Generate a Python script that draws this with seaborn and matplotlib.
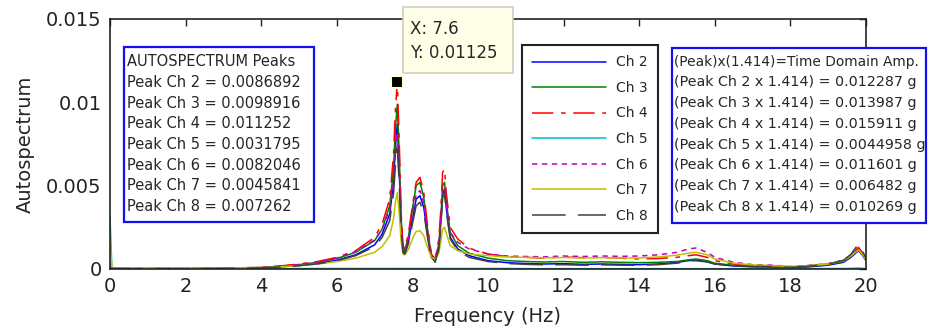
import numpy as np
import pandas as pd
import matplotlib
matplotlib.use("Agg")
import matplotlib.pyplot as plt
from matplotlib.patches import Rectangle
import seaborn as sns

# frequency axis (Hz)
freq = [0, 0.05, 0.5, 1, 2, 3, 4, 4.5, 5, 5.5, 6, 6.5, 7, 7.2, 7.4, 7.5, 7.55, 7.6, 7.65, 7.7,
        7.75, 7.8, 7.9, 8.0, 8.1, 8.2, 8.3, 8.4, 8.5, 8.6, 8.7, 8.75, 8.8, 8.85, 8.9, 9.0, 9.2, 9.5,
        10, 10.5, 11, 11.5, 12, 12.5, 13, 13.5, 14, 14.5, 15, 15.3, 15.5, 15.8, 16, 16.5, 17, 17.5,
        18, 18.5, 19, 19.4, 19.6, 19.8, 19.9, 20]

# autospectrum values, in units of 1e-4
ch2 = [1, 0.3, 0.2, 0.2, 0.2, 0.3, 0.7, 1.3, 2.1, 3.3, 5.3, 8.5, 14.5, 21, 33, 52, 73, 86.9, 61, 27,
       11, 9.5, 17, 30, 42, 44, 37, 21, 7, 4.5, 13, 27, 45, 47, 36, 19, 12, 8,
       5, 3.8, 3.3, 3, 3.2, 2.8, 3, 2.8, 2.6, 3, 4, 5, 5.4, 4.4, 3, 1.8, 1.3, 1.2,
       0.8, 1.3, 2.3, 4, 7, 11, 8.5, 5]
ch3 = [1.5, 0.4, 0.3, 0.3, 0.3, 0.4, 0.9, 1.6, 2.6, 4, 6.3, 10, 17, 24, 38, 60, 84, 98.9, 70, 31,
       13, 11, 20, 36, 50, 52, 43, 24, 8, 5, 15, 30, 50, 52, 40, 22, 14, 9.5,
       6.5, 5, 4.5, 4.2, 4.5, 4, 4.3, 4, 3.8, 4, 4.5, 5.5, 6, 5, 3.5, 2.2, 1.6, 1.5,
       1, 1.6, 2.6, 4.5, 7.5, 12, 9, 5.5]
ch4 = [2, 0.5, 0.3, 0.3, 0.4, 0.5, 1.0, 1.8, 3.0, 4.5, 7, 11, 19, 27, 42, 68, 95, 112.5, 78, 35,
       14, 12, 22, 38, 52, 55, 46, 26, 9, 6, 18, 35, 58, 60, 45, 25, 18, 12.5,
       9, 7.5, 7, 6.5, 7.2, 6.8, 7, 6.5, 6, 6.3, 7, 8, 8.5, 7, 5, 3, 2.2, 2,
       1.2, 2, 3, 5, 8, 13, 10, 6]
ch5 = [31.8, 0.2, 0.2, 0.2, 0.2, 0.2, 0.2, 0.2, 0.3, 0.3, 0.3, 0.3, 0.3, 0.3, 0.3, 0.3, 0.3, 0.4, 0.3, 0.3,
       0.3, 0.3, 0.3, 0.3, 0.3, 0.3, 0.3, 0.3, 0.3, 0.3, 0.3, 0.3, 0.3, 0.3, 0.3, 0.3, 0.3, 0.3,
       0.3, 0.3, 0.2, 0.2, 0.2, 0.2, 0.2, 0.2, 0.2, 0.2, 0.2, 0.2, 0.2, 0.2, 0.2, 0.2, 0.2, 0.2,
       0.2, 0.2, 0.3, 0.3, 0.4, 0.6, 0.4, 0.3]
ch6 = [4, 0.4, 0.3, 0.3, 0.3, 0.4, 0.9, 1.6, 2.7, 4.2, 6.6, 10.5, 17.5, 24, 36, 52, 70, 82, 60, 28,
       12, 11, 19, 33, 45, 47, 40, 23, 8.5, 6, 15, 29, 46, 48, 38, 22, 16, 12,
       9, 7.8, 7.5, 7.3, 7.8, 7.5, 7.8, 7.6, 7.8, 8.5, 10, 12, 12.6, 10, 7, 4, 2.6, 2.3,
       1.5, 2.2, 3.2, 5.3, 8.2, 12.5, 9.5, 5.8]
ch7 = [17, 0.6, 0.4, 0.4, 0.4, 0.5, 0.8, 1.3, 2, 3, 4.5, 6.5, 10, 13.5, 20, 30, 40, 45.8, 34, 17,
       9, 8.5, 12, 18, 22.5, 23, 20, 13, 7, 6, 9.5, 16, 24, 25, 21, 14, 11, 9,
       8, 7.2, 7, 6.7, 6.9, 6.6, 6.8, 6.6, 6.6, 7.2, 8.3, 9.5, 10, 8.5, 6, 3.5, 2.4, 2.1,
       1.4, 2, 3, 5, 7.8, 11.5, 9, 5.5]
ch8 = [1.2, 0.3, 0.2, 0.2, 0.2, 0.3, 0.7, 1.2, 2, 3.1, 5, 8, 13.5, 19, 29, 45, 62, 72.6, 52, 24,
       10, 9, 15.5, 27, 38, 40, 34, 19, 6, 4, 12, 25, 43, 45, 34, 18, 11, 7,
       4.5, 3.3, 2.8, 2.5, 2.6, 2.3, 2.5, 2.3, 2.2, 2.6, 3.5, 4.6, 5, 4.2, 3, 1.9, 1.5, 1.5,
       1, 1.7, 3, 5.2, 8.8, 15, 11, 6.5]

channels = ["Ch 2", "Ch 3", "Ch 4", "Ch 5", "Ch 6", "Ch 7", "Ch 8"]
series = [ch2, ch3, ch4, ch5, ch6, ch7, ch8]
colors = ["#0000FF", "#008000", "#FF0000", "#00BFBF", "#BF00BF", "#BFBF00", "#404040"]
dashes = ["", "", (14, 5, 3, 5), "", (3.5, 3), "", (22, 8)]

peak_text = ["AUTOSPECTRUM Peaks",
             "Peak Ch 2 = 0.0086892", "Peak Ch 3 = 0.0098916", "Peak Ch 4 = 0.011252",
             "Peak Ch 5 = 0.0031795", "Peak Ch 6 = 0.0082046", "Peak Ch 7 = 0.0045841",
             "Peak Ch 8 = 0.007262"]
amp_text = ["(Peak)x(1.414)=Time Domain Amp.",
            "(Peak Ch 2 x 1.414) = 0.012287 g", "(Peak Ch 3 x 1.414) = 0.013987 g",
            "(Peak Ch 4 x 1.414) = 0.015911 g", "(Peak Ch 5 x 1.414) = 0.0044958 g",
            "(Peak Ch 6 x 1.414) = 0.011601 g", "(Peak Ch 7 x 1.414) = 0.006482 g",
            "(Peak Ch 8 x 1.414) = 0.010269 g"]
cursor_x = 7.6
cursor_y = 0.01125

rows = []
for name, vals in zip(channels, series):
    for f, v in zip(freq, vals):
        rows.append((name, f, v * 1e-4))
df = pd.DataFrame(rows, columns=["ch", "freq", "val"])

sns.set_style("white")
plt.rcParams["font.family"] = ["DejaVu Sans"]

W, H = 934, 332
fig = plt.figure(figsize=(W / 100, H / 100), dpi=100)
ax = fig.add_axes([110 / W, (H - 269) / H, 756 / W, 250 / H])

sns.lineplot(data=df, x="freq", y="val", hue="ch", style="ch",
             palette=dict(zip(channels, colors)), dashes=dict(zip(channels, dashes)),
             estimator=None, sort=False, linewidth=1.1, ax=ax)

ax.set_xlim(0, 20)
ax.set_ylim(0, 0.015)
ax.set_xticks(range(0, 21, 2))
ax.set_yticks([0, 0.005, 0.01, 0.015])
ax.set_yticklabels(["0", "0.005", "0.01", "0.015"])
ax.tick_params(direction="in", top=True, right=True, length=5, width=1,
               labelsize=14, pad=6, colors="#222222")
for s in ax.spines.values():
    s.set_color("#222222")
    s.set_linewidth(1.2)
ax.set_xlabel("Frequency (Hz)", fontsize=14, labelpad=8)
ax.set_ylabel("Autospectrum", fontsize=14, labelpad=8)

# cursor marker
ax.plot([cursor_x], [cursor_y], "s", ms=8.5, mfc="black", mec="#FFFFCC", mew=1.5,
        zorder=10, clip_on=False)

handles, labels = ax.get_legend_handles_labels()
leg = ax.legend(handles, labels, loc="upper left", bbox_to_anchor=(412 / 756, 224 / 250),
                borderaxespad=0, fontsize=10, handlelength=5.3, handletextpad=0.7,
                labelspacing=0.83, fancybox=False, edgecolor="#222222",
                borderpad=0.75, framealpha=1)
leg.get_frame().set_linewidth(1.5)


def fx(x):
    return x / W


def fy(y):
    return 1 - y / H


# left peaks box
fig.patches.append(Rectangle((fx(124), fy(222)), fx(314) - fx(124), fy(47) - fy(222),
                             transform=fig.transFigure, facecolor="white",
                             edgecolor="#1010F0", linewidth=1.6))
for i, t in enumerate(peak_text):
    fig.text(fx(127), fy(61.7 + i * 20.7), t, fontsize=10.5, va="center", ha="left")

# right amplitude box
fig.patches.append(Rectangle((fx(672), fy(223)), fx(926) - fx(672), fy(48) - fy(223),
                             transform=fig.transFigure, facecolor="white",
                             edgecolor="#1010F0", linewidth=1.6))
for i, t in enumerate(amp_text):
    fig.text(fx(674), fy(61.7 + i * 20.7), t, fontsize=9.9 if i == 0 else 10.3,
             va="center", ha="left")

# data cursor tooltip
fig.patches.append(Rectangle((fx(403), fy(73)), fx(513) - fx(403), fy(7) - fy(73),
                             transform=fig.transFigure, facecolor="#FFFFE8",
                             edgecolor="#CFCFC0", linewidth=1.2))
fig.text(fx(410), fy(29), f"X: {cursor_x}", fontsize=12, va="center", ha="left")
fig.text(fx(410), fy(53), f"Y: {cursor_y}", fontsize=12, va="center", ha="left")

fig.savefig("out.png", dpi=100)
